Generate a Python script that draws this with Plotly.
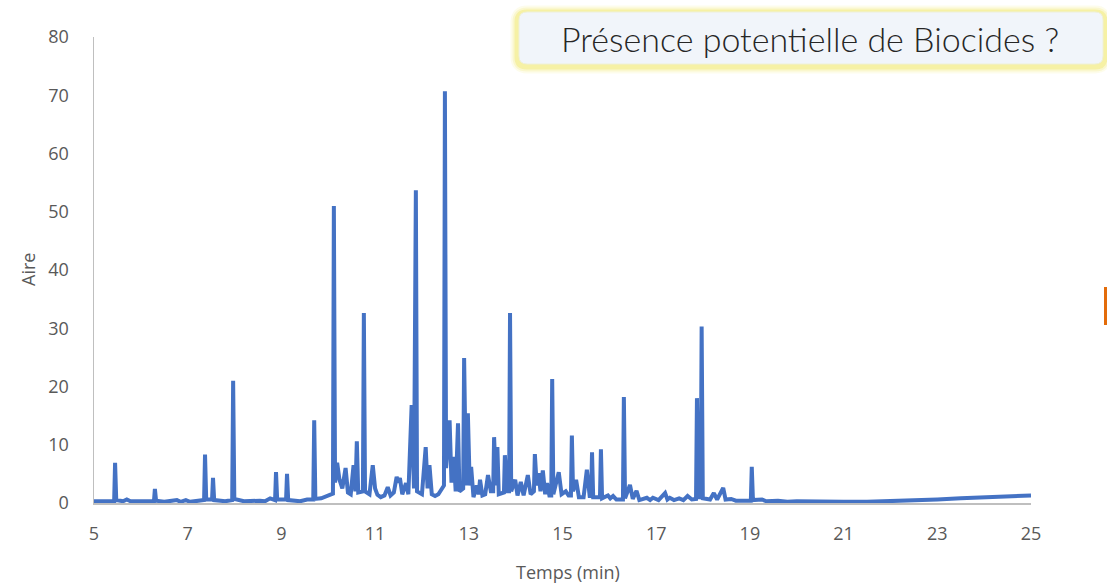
import plotly.graph_objects as go

# ---- data (time in min, area) ----
seg_5_10 = [(5.00,0.3),(5.43,0.3),(5.45,6.9),(5.475,0.5),(5.62,0.3),(5.70,0.6),(5.78,0.3),(6.10,0.2),
            (6.28,0.3),(6.30,2.4),(6.325,0.4),(6.50,0.2),(6.77,0.5),(6.85,0.2),(6.96,0.5),(7.05,0.2),
            (7.35,0.5),(7.37,8.3),(7.395,0.6),(7.52,0.6),(7.54,4.3),(7.565,0.5),(7.80,0.3),(7.95,0.5),
            (7.97,21.0),(7.995,0.7),(8.20,0.3),(8.54,0.4),(8.65,0.3),(8.76,0.8),(8.865,0.5),(8.885,5.3),
            (8.91,0.6),(9.10,0.6),(9.12,5.0),(9.145,0.5),(9.40,0.3),(9.55,0.6),(9.68,0.6),(9.70,14.2),
            (9.725,0.7),(9.85,0.8),(9.97,1.2),(10.10,1.6)]
seg_10_12 = [(10.12,51.0),(10.145,3.5),(10.19,6.9),(10.24,4.0),(10.30,2.5),(10.37,6.0),(10.42,1.8),
             (10.48,1.5),(10.54,6.5),(10.58,2.0),(10.61,10.6),(10.64,1.8),(10.74,2.0),(10.76,32.6),
             (10.785,2.0),(10.88,1.5),(10.95,6.5),(11.00,2.5),(11.05,1.4),(11.12,1.0),(11.20,1.3),
             (11.27,2.7),(11.33,1.3),(11.40,1.8),(11.46,4.5),(11.50,3.5),(11.53,4.3),(11.58,1.5),
             (11.66,3.4),(11.71,1.5),(11.78,16.8),(11.83,2.5),(11.87,53.7),(11.895,2.0),(12.00,1.5)]
seg_12_14 = [(12.08,9.6),(12.12,2.5),(12.16,6.5),(12.21,1.5),(12.28,1.2),(12.35,1.5),(12.47,3.0),
             (12.49,70.7),(12.515,6.0),(12.59,14.2),(12.63,3.5),(12.68,7.9),(12.72,2.0),(12.77,13.7),
             (12.80,2.0),(12.88,2.5),(12.90,24.9),(12.94,3.0),(12.98,15.4),(13.02,3.0),(13.05,6.2),
             (13.10,1.0),(13.17,3.0),(13.21,1.5),(13.24,4.0),(13.29,1.3),(13.35,1.5),(13.41,4.8),
             (13.47,2.0),(13.52,2.0),(13.54,11.3),(13.58,3.0),(13.61,9.6),(13.64,1.5),(13.75,1.8),
             (13.77,8.2),(13.82,2.0),(13.86,2.0),(13.88,32.6),(13.905,2.0),(13.99,4.0),(14.04,1.3),(14.11,3.6)]
seg_14_16 = [(14.17,1.3),(14.26,4.8),(14.32,1.5),(14.39,2.0),(14.41,8.4),(14.45,3.0),(14.49,5.1),
             (14.53,2.0),(14.58,5.6),(14.63,1.5),(14.67,3.4),(14.72,1.3),(14.76,1.3),(14.78,21.3),(14.805,1.5),
             (14.92,5.3),(14.98,1.5),(15.07,2.0),(15.13,1.3),(15.18,1.3),(15.20,11.6),(15.225,2.0),(15.29,4.0),
             (15.35,1.0),(15.45,1.0),(15.52,5.7),(15.58,1.2),(15.61,1.2),(15.63,8.7),(15.655,1.0),(15.80,1.0),
             (15.82,9.2),(15.845,0.8),(15.97,1.3),(16.02,0.8),(16.08,1.2),(16.15,0.6)]
seg_16_20 = [(16.29,0.6),(16.31,18.2),(16.335,0.8),(16.44,3.1),(16.50,0.7),(16.58,2.1),(16.64,0.5),
             (16.80,0.9),(16.87,0.5),(16.93,0.9),(17.05,0.5),(17.19,1.7),(17.24,0.6),(17.29,0.9),
             (17.38,0.5),(17.49,0.8),(17.58,0.5),(17.67,1.2),(17.76,0.6),(17.85,0.7),(17.87,18.0),
             (17.90,1.0),(17.95,1.0),(17.97,30.3),(17.995,0.8),(18.15,0.6),(18.23,1.7),(18.30,0.6),(18.43,2.6),
             (18.48,0.6),(18.60,0.7),(18.70,0.4),(19.02,0.4),(19.04,6.2),(19.065,0.5),(19.26,0.6),
             (19.35,0.3),(19.60,0.4),(19.80,0.2),(20.00,0.3)]
seg_20_25 = [(20.5,0.2),(21.0,0.2),(21.5,0.2),(22.0,0.3),(22.5,0.4),(23.0,0.6),(23.5,0.8),
             (24.0,1.0),(24.5,1.15),(25.0,1.3)]

x_ticks = [5, 7, 9, 11, 13, 15, 17, 19, 21, 23, 25]
y_ticks = [0, 10, 20, 30, 40, 50, 60, 70, 80]
title_text = "Présence potentielle de Biocides ?"
x_title = "Temps (min)"
y_title = "Aire"

points = seg_5_10 + seg_10_12 + seg_12_14 + seg_14_16 + seg_16_20 + seg_20_25
time_min = [p[0] for p in points]
aire = [p[1] for p in points]

# ---- layout geometry (pixels) ----
W, H = 1107, 586
L, R, T, B = 94, 1031, 37, 503

def xp(px):
    return (px - L) / (R - L)

def yp(py):
    return (B - py) / (B - T)

def rounded_rect(x0, y0, x1, y1, r):
    rx = r / (R - L)
    ry = r / (B - T)
    X0, X1 = xp(x0), xp(x1)
    Yt, Yb = yp(y0), yp(y1)
    return (f"M {X0+rx},{Yt} L {X1-rx},{Yt} Q {X1},{Yt} {X1},{Yt-ry} "
            f"L {X1},{Yb+ry} Q {X1},{Yb} {X1-rx},{Yb} L {X0+rx},{Yb} "
            f"Q {X0},{Yb} {X0},{Yb+ry} L {X0},{Yt-ry} Q {X0},{Yt} {X0+rx},{Yt} Z")

fig = go.Figure()
fig.add_trace(go.Scatter(x=time_min, y=aire, mode="lines",
                         line=dict(color="#4472C4", width=4), hoverinfo="skip",
                         showlegend=False))

shapes = []
# glow around title box
for grow, op, w in [(7, 0.12, 8), (5, 0.2, 6), (3, 0.35, 4)]:
    shapes.append(dict(type="path", xref="paper", yref="paper", layer="above",
                       path=rounded_rect(519 - 1, 12 + 1, 1103 + 1, 64 + 2, 9),
                       line=dict(color="rgba(238,228,90,%s)" % op, width=w + grow),
                       fillcolor="rgba(0,0,0,0)"))
shapes.append(dict(type="path", xref="paper", yref="paper", layer="above",
                   path=rounded_rect(519, 12, 1103, 64, 8),
                   line=dict(color="#EEF0D8", width=1), fillcolor="#F1F5FA"))
# small orange mark on the right edge
shapes.append(dict(type="line", xref="paper", yref="paper",
                   x0=xp(1105.5), x1=xp(1105.5), y0=yp(287), y1=yp(325),
                   line=dict(color="#E36C0A", width=3)))

annotations = [
    dict(text=title_text, xref="paper", yref="paper", x=xp(810), y=yp(38),
         showarrow=False, xanchor="center", yanchor="middle",
         font=dict(family="Lato", size=34, color="#262626", weight=300)),
    dict(text=y_title, xref="paper", yref="paper", x=xp(28), y=yp(270),
         showarrow=False, textangle=-90, xanchor="center", yanchor="middle",
         font=dict(family="Open Sans", size=18, color="#595959")),
    dict(text=x_title, xref="paper", yref="paper", x=xp(568), y=yp(572),
         showarrow=False, xanchor="center", yanchor="middle",
         font=dict(family="Open Sans", size=18, color="#595959")),
]

fig.update_layout(
    width=W, height=H,
    margin=dict(l=L, r=W - R, t=T, b=H - B, pad=0, autoexpand=False),
    paper_bgcolor="white", plot_bgcolor="white",
    shapes=shapes, annotations=annotations,
    xaxis=dict(range=[5, 25], tickvals=x_ticks, ticktext=[str(v) for v in x_ticks],
               showgrid=False, zeroline=False, showline=True, linecolor="#BFBFBF",
               linewidth=1.5, ticks="", ticklabelstandoff=14, automargin=False,
               tickfont=dict(family="Open Sans", size=18, color="#595959")),
    yaxis=dict(range=[0, 80], tickvals=y_ticks, ticktext=[str(v) for v in y_ticks],
               showgrid=False, zeroline=False, showline=True, linecolor="#BFBFBF",
               linewidth=1.5, ticks="", ticklabelstandoff=20, automargin=False,
               tickfont=dict(family="Open Sans", size=18, color="#595959")),
)

fig.write_html("out.html", config={"displayModeBar": False, "staticPlot": True},
               post_script="document.body.style.margin='0';document.body.style.overflow='hidden';")
